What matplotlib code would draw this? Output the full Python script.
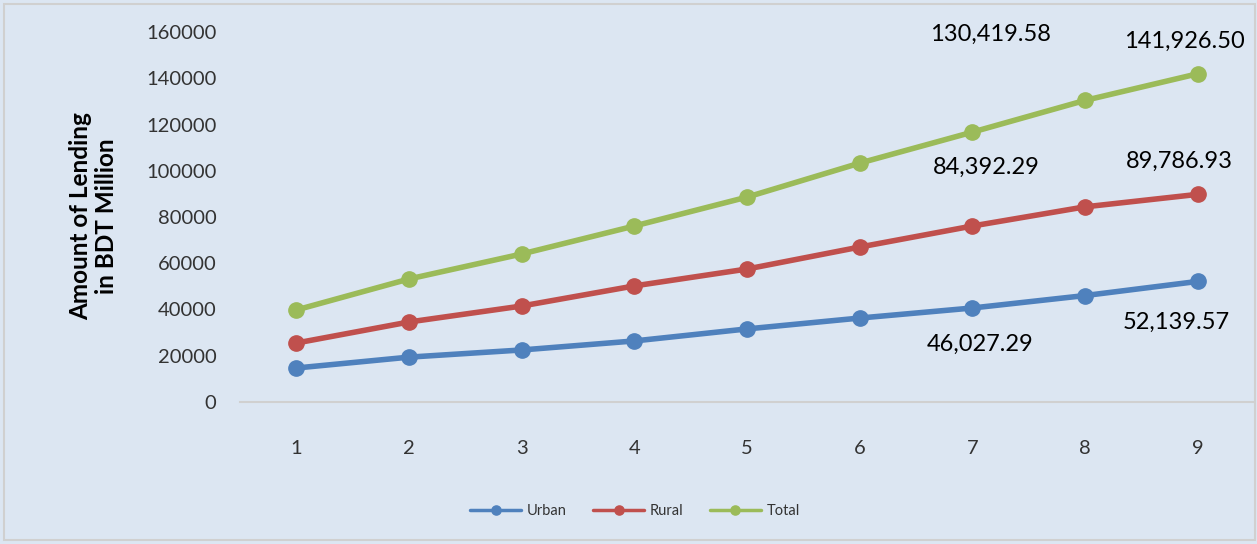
import matplotlib.pyplot as plt
from matplotlib.patches import Rectangle

plt.rcParams['font.family'] = ['Lato', 'DejaVu Sans']

years = [1, 2, 3, 4, 5, 6, 7, 8, 9]
urban = [14700, 19400, 22500, 26400, 31600, 36300, 40650, 46027.29, 52139.57]
rural = [25500, 34600, 41500, 50200, 57500, 67000, 76100, 84392.29, 89786.93]
total = [39800, 53200, 64000, 76100, 88600, 103300, 116700, 130419.58, 141926.50]

series = [
    ('Urban', urban, '#4f81bd', [(-105, -49), (-21, -41)]),
    ('Rural', rural, '#c0504d', [(-99, 39), (-18, 33)]),
    ('Total', total, '#9bbb59', [(-95, 66), (-13, 32)]),
]

bg = '#dce6f2'
fig = plt.figure(figsize=(12.57, 5.44), dpi=100, facecolor=bg)
fig.patches.append(Rectangle((4 / 1257, 4 / 544), 1251 / 1257, 536 / 544,
                             transform=fig.transFigure, fill=False,
                             edgecolor='#d0d0d0', lw=1.5))
ax = fig.add_axes([240 / 1257, 1 - 402 / 544, 1014 / 1257, 370 / 544])
ax.set_facecolor(bg)

for name, vals, color, offsets in series:
    ax.plot(years, vals, color=color, lw=4, marker='o', ms=11, label=name,
            solid_capstyle='round')
    # value labels on the last two points
    for i, off in zip([7, 8], offsets):
        ax.annotate(f'{vals[i]:,.2f}', (years[i], vals[i]), xytext=off,
                    textcoords='offset pixels', ha='center', va='center',
                    fontsize=17, color='black')

ax.set_xlim(0.5, 9.5)
ax.set_ylim(0, 160000)
ax.set_xticks(years)
ax.set_yticks(range(0, 160001, 20000))
ax.tick_params(length=0, labelsize=14.5, labelcolor='#333333')
ax.tick_params(axis='x', pad=27)
ax.tick_params(axis='y', pad=17)
for side in ['top', 'right', 'left']:
    ax.spines[side].set_visible(False)
ax.spines['bottom'].set_color('#d0d0d0')
ax.spines['bottom'].set_linewidth(1.5)

fig.text(94 / 1257, 1 - 216 / 544, 'Amount of Lending\nin BDT Million',
         rotation=90, ha='center', va='center', fontsize=17.5,
         fontweight='bold', linespacing=1.15)

leg = fig.legend(loc='center', bbox_to_anchor=(635 / 1257, 1 - 511 / 544),
                 ncol=3, frameon=False, fontsize=10.5, handlelength=3.5,
                 columnspacing=1.8, handletextpad=0.4, markerscale=0.6)
for t in leg.get_texts():
    t.set_color('#333333')
for line in leg.get_lines():
    line.set_linewidth(2.5)

fig.savefig('out.png', facecolor=bg)
